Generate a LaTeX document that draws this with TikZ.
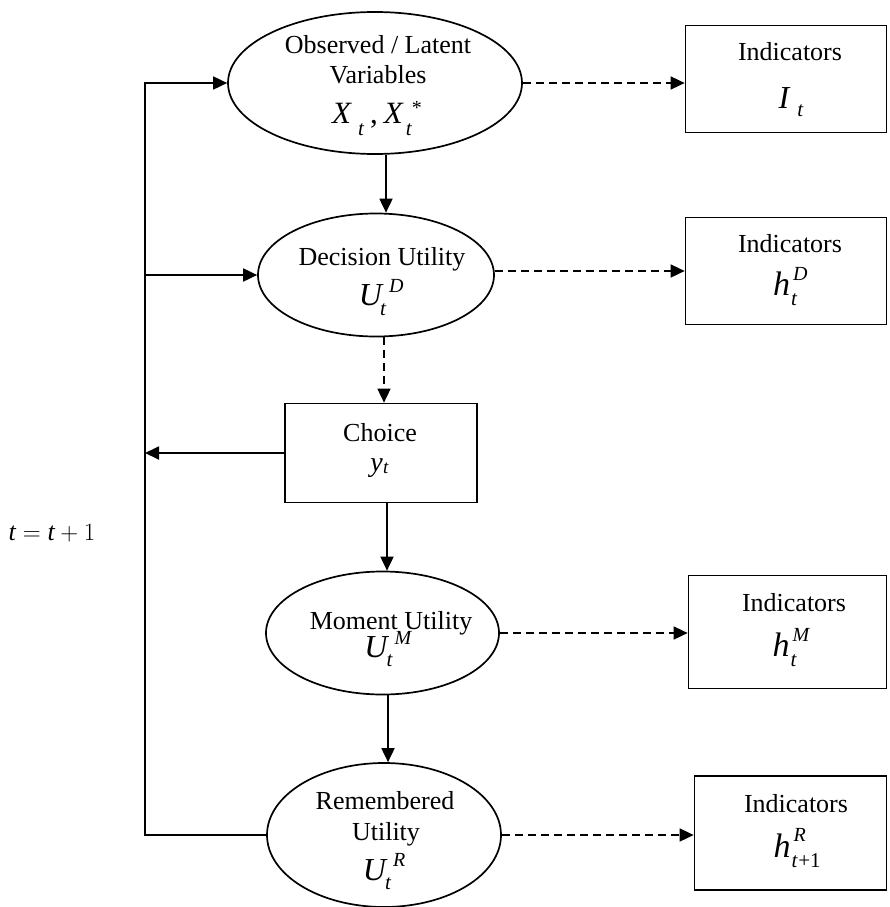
\documentclass[tikz,border=0pt]{standalone}
\usepackage{amsmath}
\usepackage{fontspec}
\setmainfont{Liberation Serif}
\usetikzlibrary{shapes.geometric,arrows.meta}

% a script placed at a horizontal offset and raise, taking no width
\newcommand\scr[3]{\rlap{\kern#1\raisebox{#2}{#3}}}
\newcommand\subf{\fontsize{21}{21}\selectfont\itshape}
\newcommand\supf{\fontsize{20}{20}\selectfont\itshape}

\tikzset{
  oval/.style={ellipse, draw, line width=1.7pt, inner sep=0pt},
  box/.style={rectangle, draw, line width=1.7pt, inner sep=0pt},
  lbl/.style={anchor=base, inner sep=0pt, font=\fontsize{26}{30}\selectfont},
  sym/.style={anchor=base, inner sep=0pt, font=\fontsize{32}{36}\selectfont\itshape},
  solidarrow/.style={line width=1.8pt, -{Triangle[length=14pt,width=13pt]}},
  dasharrow/.style={line width=1.6pt, dash pattern=on 8pt off 5pt,
                    -{Triangle[length=14pt,width=13pt]}},
}

\begin{document}
\begin{tikzpicture}[x=1pt, y=-1pt]
  \useasboundingbox (0,0) rectangle (889,907);

  % main chain
  \node[oval, minimum width=294pt, minimum height=142pt] (obs) at (375,83) {};
  \node[oval, minimum width=236pt, minimum height=123pt] (dec) at (376,275) {};
  \node[box,  minimum width=192pt, minimum height=99pt]  (ch)  at (381,453) {};
  \node[oval, minimum width=233pt, minimum height=123pt] (mom) at (382.5,633) {};
  \node[oval, minimum width=234pt, minimum height=144pt] (rem) at (384,835) {};

  % indicator boxes
  \node[box, minimum width=201pt, minimum height=107pt] (i1) at (786,79) {};
  \node[box, minimum width=201pt, minimum height=107pt] (i2) at (786,271) {};
  \node[box, minimum width=198pt, minimum height=113pt] (i3) at (787.5,632) {};
  \node[box, minimum width=192pt, minimum height=114pt] (i4) at (790.5,833) {};

  % texts
  \node[lbl] (obs-a) at (378,54) {Observed / Latent};
  \node[lbl] (obs-b) at (378,83) {Variables};
  \node[sym, font=\fontsize{31}{34}\selectfont\itshape] (obs-c) at (377,123)
       {X\scr{7pt}{-12pt}{\subf t}\kern19pt\upshape,\kern6pt\itshape
        X\scr{3pt}{-12pt}{\subf t}\scr{9pt}{9pt}{\supf\upshape*}\kern19pt};
  \node[lbl] (dec-a) at (382,265) {Decision Utility};
  \node[sym] (dec-b) at (381,305) {U\scr{-2pt}{-10pt}{\subf t}\scr{7pt}{13pt}{\supf D}\kern21pt};
  \node[lbl] (ch-a) at (380,441) {Choice};
  \node[lbl, font=\fontsize{28}{32}\selectfont\itshape] (ch-b) at (380,471)
       {y\scr{0.5pt}{-2pt}{\fontsize{19}{19}\selectfont t}\kern7pt};
  \node[lbl] (mom-a) at (391,629) {Moment Utility};
  \node[sym] (mom-b) at (388,657) {U\scr{-1pt}{-9pt}{\subf t}\scr{7pt}{13pt}{\supf M}\kern24pt};
  \node[lbl] (rem-a) at (385,809) {Remembered};
  \node[lbl] (rem-b) at (386,840) {Utility};
  \node[sym] (rem-c) at (384,880) {U\scr{-1pt}{-9pt}{\subf t}\scr{7pt}{14pt}{\supf R}\kern19pt};

  \node[lbl] (i1-a) at (790,60) {Indicators};
  \node[sym] (i1-b) at (791,108) {I\scr{8pt}{-8pt}{\subf t}\kern14pt};
  \node[lbl] (i2-a) at (790,252) {Indicators};
  \node[sym, font=\fontsize{34}{38}\selectfont\itshape] (i2-b) at (790,295)
       {h\scr{1pt}{-10pt}{\subf t}\scr{3pt}{15pt}{\supf D}\kern17pt};
  \node[lbl] (i3-a) at (794,611) {Indicators};
  \node[sym, font=\fontsize{34}{38}\selectfont\itshape] (i3-b) at (791,656)
       {h\scr{1pt}{-10pt}{\subf t}\scr{3pt}{15pt}{\supf M}\kern20pt};
  \node[lbl] (i4-a) at (796,812) {Indicators};
  \node[sym, font=\fontsize{34}{38}\selectfont\itshape] (i4-b) at (797,857)
       {h\scr{1pt}{-10pt}{\subf t\upshape\kern1pt+1}\scr{3pt}{16pt}{\supf R}\kern30pt};

  \node[lbl] (tstep) at (52,540) {$\mathit{t} = \mathit{t} + 1$};

  % guide columns for the vertical connectors
  \coordinate (loopx) at (145,0);
  \coordinate (s1) at (386,0);
  \coordinate (s2) at (384,0);
  \coordinate (s3) at (387,0);
  \coordinate (s4) at (388,0);

  % downward flow
  \draw[solidarrow] (obs.south -| s1) -- (dec.north -| s1);
  \draw[dasharrow]  (dec.south -| s2) -- (ch.north -| s2);
  \draw[solidarrow] (ch.south -| s3)  -- (mom.north -| s3);
  \draw[solidarrow] (mom.south -| s4) -- (rem.north -| s4);

  % feedback loop t = t + 1
  \draw[solidarrow] (rem.west) -- (rem.west -| loopx) -- (obs.west -| loopx) -- (obs.west);
  \draw[solidarrow] (dec.west -| loopx) -- (dec.west);
  \draw[solidarrow] (ch.west) -- (ch.west -| loopx);

  % measurement links
  \draw[dasharrow] (obs.east) -- (obs.east -| i1.west);
  \draw[dasharrow] (i2.west -| dec.east) -- (i2.west);
  \draw[dasharrow] (mom.east) -- (mom.east -| i3.west);
  \draw[dasharrow] (rem.east) -- (rem.east -| i4.west);
\end{tikzpicture}
\end{document}
